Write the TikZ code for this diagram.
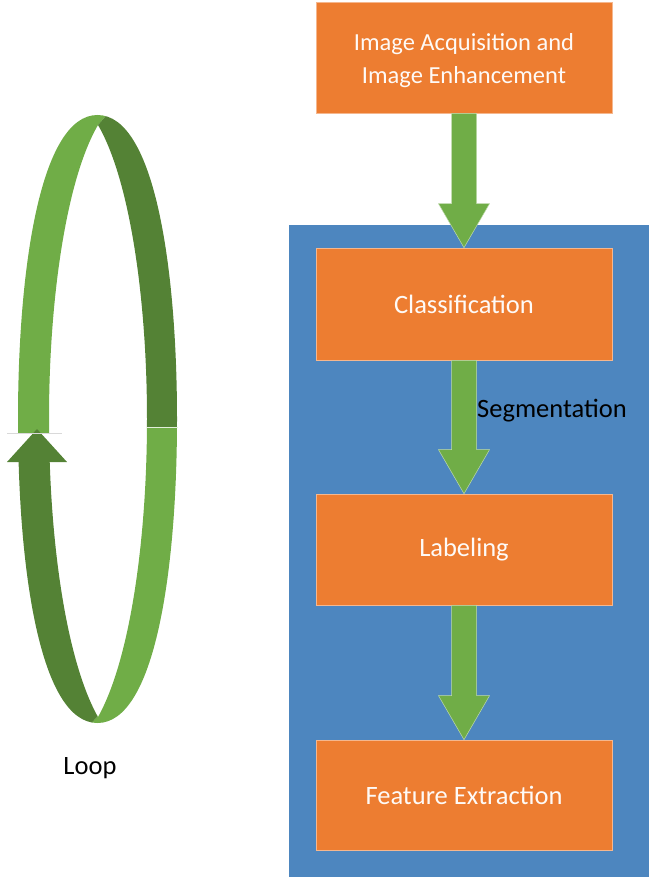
\documentclass[tikz,border=0pt]{standalone}
\usepackage{fontspec}
\setmainfont{Carlito}
\usetikzlibrary{calc}
\definecolor{boxorange}{HTML}{ED7D31}
\definecolor{panelblue}{HTML}{4D86BF}
\definecolor{lightgreen}{HTML}{70AD47}
\definecolor{darkgreen}{HTML}{548235}

% block arrow from the bottom of one box to the top of the next
\newcommand\blockarrow[2]{%
  \filldraw[flowarrow]
    ($(#1.south)+(-12.5,0)$) -- ($(#2.north)+(-12.5,-44)$) -- ($(#2.north)+(-25.5,-44)$)
    -- (#2.north) -- ($(#2.north)+(25.5,-44)$) -- ($(#2.north)+(12.5,-44)$)
    -- ($(#1.south)+(12.5,0)$) -- cycle;}

\begin{document}
\begin{tikzpicture}[x=1pt,y=-1pt,
  stepbox/.style={rectangle, fill=boxorange, draw=boxorange!55!white, line width=0.6pt,
    minimum width=296pt, inner sep=0pt, text=white!96!boxorange, align=center,
    font=\fontsize{26.5}{33}\selectfont},
  flowarrow/.style={fill=lightgreen, draw=lightgreen!45!white, line width=0.5pt},
  plainlabel/.style={text=black, font=\fontsize{26.5}{30}\selectfont, inner sep=0pt},
  ring/.style={even odd rule}]
\useasboundingbox (0,0) rectangle (649,877);

% panel behind the processing steps
\fill[panelblue] (289,225) rectangle (649,877);

% process steps
\node[stepbox, minimum height=111pt, font=\fontsize{24.5}{33}\selectfont] (acq) at (464,57.5)
  {\raisebox{-3pt}[\height][\depth]{\shortstack{Image Acquisition and\\[9pt]Image Enhancement}}};
\node[stepbox, minimum height=112pt] (cls) at (464,304) {Classification};
\node[stepbox, minimum height=111pt] (lab) at (464,549.5) {Labeling};
\node[stepbox, minimum height=110pt] (feat) at (464,795) {Feature Extraction};

\blockarrow{acq}{cls}
\blockarrow{cls}{lab}
\blockarrow{lab}{feat}

\node[plainlabel, anchor=west] (seg) at (477,411) {Segmentation};

% looping ribbon: outer outline with a pointed opening inside
\def\ringpath{%
  (97.5,115) .. controls (40,115) and (18,270) .. (18,419)
  .. controls (18,570) and (40,723) .. (97.5,723)
  .. controls (155,723) and (177,570) .. (177,419)
  .. controls (177,270) and (155,115) .. (97.5,115) -- cycle
  (98,125) .. controls (130,180) and (147,300) .. (147,419)
  .. controls (147,540) and (130,660) .. (98,717)
  .. controls (66,660) and (49,540) .. (49,419)
  .. controls (49,300) and (66,180) .. (98,125) -- cycle}
\begin{scope}
  \clip (0,100) -- (120,100) -- (98,125) -- (98,433) -- (0,433) -- cycle;
  \fill[lightgreen, ring] \ringpath;
\end{scope}
\begin{scope}
  \clip (120,100) -- (200,100) -- (200,427) -- (98,427) -- (98,125) -- cycle;
  \fill[darkgreen, ring] \ringpath;
\end{scope}
\begin{scope}
  \clip (98,427) -- (200,427) -- (200,745) -- (71,745) -- (97,717) -- cycle;
  \fill[lightgreen, ring] \ringpath;
\end{scope}
\begin{scope}
  \clip (0,462) -- (98,462) -- (97,717) -- (71,745) -- (0,745) -- cycle;
  \fill[darkgreen, ring] \ringpath;
\end{scope}
\fill[darkgreen] (7,462) -- (37,429) -- (67,462) -- cycle;
\draw[gray!30, line width=1pt] (7,433) -- (62,433);
\draw[white!80!lightgreen, line width=0.8pt] (147,427) -- (178,427);

\node[plainlabel] (loop) at (90,768) {Loop};
\end{tikzpicture}
\end{document}
